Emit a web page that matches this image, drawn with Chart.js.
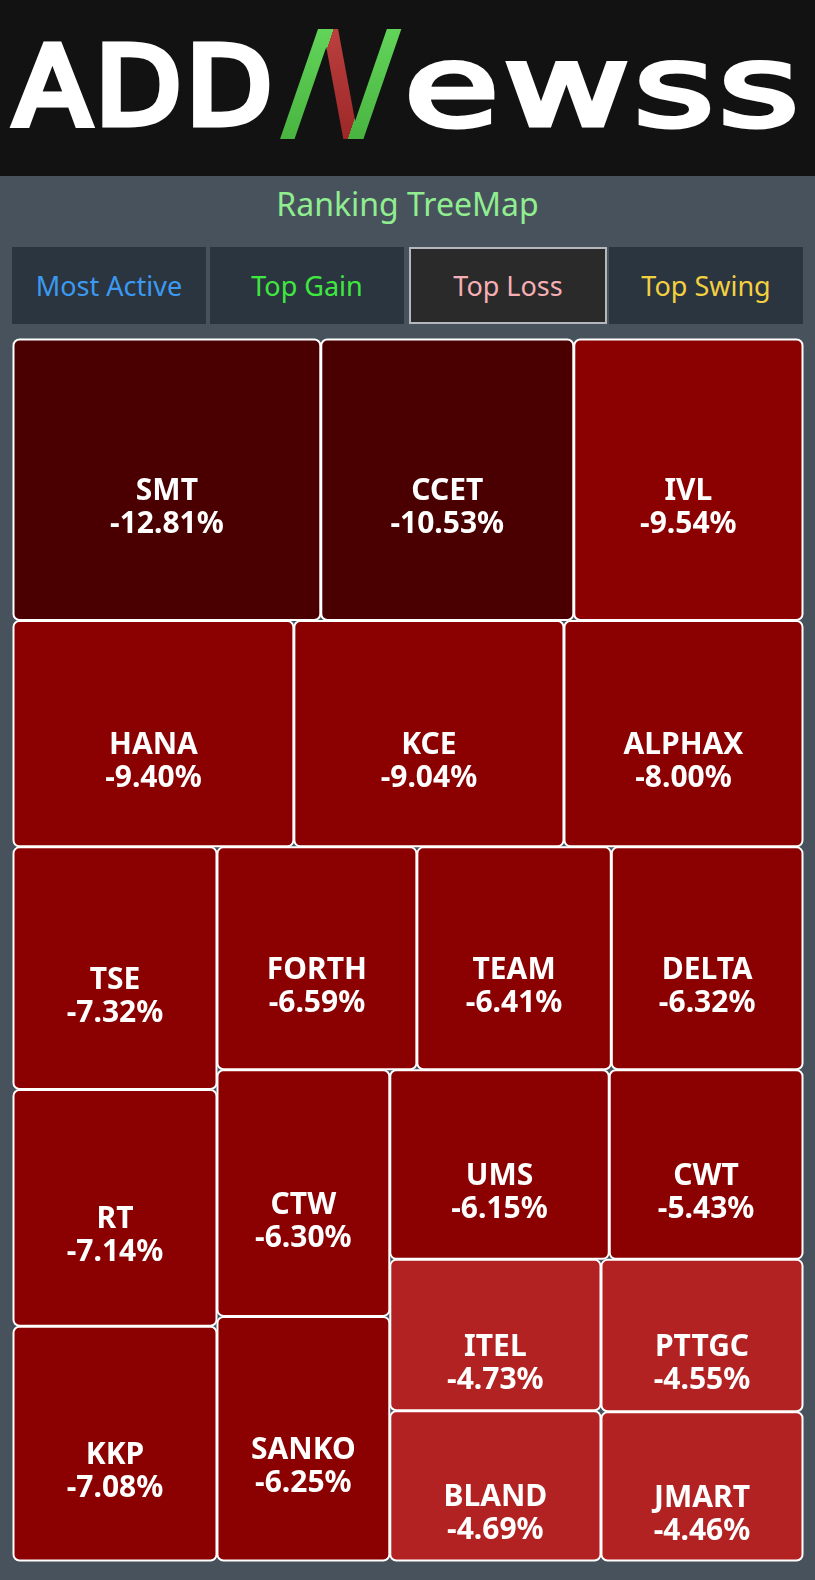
<!DOCTYPE html>
<html>
<head>
<meta charset="utf-8">
<script src="https://cdn.jsdelivr.net/npm/chart.js@4.4.0/dist/chart.umd.min.js"></script>
<style>
  html, body { margin:0; padding:0; }
  body { width:815px; height:1580px; background:#48525d; position:relative; overflow:hidden; font-family:"Noto Sans", sans-serif; }
  #header { position:absolute; left:0; top:0; width:815px; height:176px; background:#121212; overflow:hidden; }
  #logo span { position:absolute; white-space:nowrap; font-family:"DejaVu Sans", sans-serif; font-weight:normal; line-height:1; transform-origin:0 0; }
  #logo .a { left:14px; top:33px; font-size:108px; color:#fff; -webkit-text-stroke:7px #fff; letter-spacing:4px; transform:scaleX(1.04); }
  #logo .e { left:404px; top:30px; font-size:112px; color:#fff; -webkit-text-stroke:5px #fff; letter-spacing:3px; transform:scaleX(1.38); }
  #logo .n { left:283px; top:12px; font-size:151px; transform-origin:50% 50%; transform:skewX(-19deg);
     background:linear-gradient(180deg,rgba(255,255,255,0.12) 0%,rgba(0,0,0,0.18) 100%),
                linear-gradient(90deg,#52d448 0%,#52d448 27%,#b82a2a 27%,#b82a2a 73%,#52d448 73%,#52d448 100%);
     -webkit-background-clip:text; background-clip:text; color:transparent; }
  #title { position:absolute; left:0; top:182px; width:815px; text-align:center; font-size:32px; color:#90ee90; line-height:44px; }
  .tab { position:absolute; top:247px; height:77px; width:194px; background:#2b3540; font-size:27px; text-align:center; line-height:77px; box-sizing:border-box; }
  .tab.sel { background:#2a2a2a; border:2px solid #b4b8bc; line-height:73px; }
  #wrap { position:absolute; left:8px; top:334px; width:800px; height:1232px; }
</style>
</head>
<body>
<div id="header"><div id="logo"><span class="a">ADD</span><span class="n">N</span><span class="e">ewss</span></div></div>
<div id="title">Ranking TreeMap</div>
<div class="tab" style="left:12px;color:#3b9af0">Most Active</div>
<div class="tab" style="left:210px;color:#3fe83f">Top Gain</div>
<div class="tab sel" style="left:409px;width:198px;color:#f7aeb4">Top Loss</div>
<div class="tab" style="left:609px;color:#f3d040">Top Swing</div>
<div id="wrap"><canvas id="c"></canvas></div>
<script>
// ---- data ----
const symbols = ["SMT","CCET","IVL","HANA","KCE","ALPHAX","TSE","RT","KKP","FORTH","TEAM","DELTA","CTW","SANKO","UMS","CWT","ITEL","BLAND","PTTGC","JMART"];
const changes = [-12.81,-10.53,-9.54,-9.40,-9.04,-8.00,-7.32,-7.14,-7.08,-6.59,-6.41,-6.32,-6.30,-6.25,-6.15,-5.43,-4.73,-4.69,-4.55,-4.46];

function colorFor(v) {
  if (v <= -10) return "#4a0000";
  if (v <= -5) return "#8b0000";
  return "#b22222";
}

function squarify(vals, x0, y0, w0, h0) {
  const total = vals.reduce((a,b)=>a+b,0);
  const k = w0*h0/total;
  const areas = vals.map(v=>v*k);
  const rects = [];
  let rx=x0, ry=y0, rw=w0, rh=h0;
  let row = [];
  const sum = a => a.reduce((p,q)=>p+q,0);
  function worst(r, side) {
    const s = sum(r), mx = Math.max(...r), mn = Math.min(...r);
    return Math.max(side*side*mx/(s*s), (s*s)/(side*side*mn));
  }
  function layout(r) {
    const s = sum(r);
    if (rw >= rh) {
      const cw = s/rh; let cy = ry;
      r.forEach(a => { const ch = a/cw; rects.push({x:rx,y:cy,w:cw,h:ch}); cy += ch; });
      rx += cw; rw -= cw;
    } else {
      const ch = s/rw; let cx = rx;
      r.forEach(a => { const cw = a/ch; rects.push({x:cx,y:ry,w:cw,h:ch}); cx += cw; });
      ry += ch; rh -= ch;
    }
  }
  let i = 0;
  while (i < areas.length) {
    const side = Math.min(rw, rh);
    const a = areas[i];
    if (row.length === 0 || worst(row.concat([a]), side) <= worst(row, side)) { row.push(a); i++; }
    else { layout(row); row = []; }
  }
  if (row.length) layout(row);
  return rects;
}

const treemapPlugin = {
  id: 'treemapCells',
  afterDatasetsDraw(chart) {
    const xs = chart.scales.x, ys = chart.scales.y;
    const left = xs.getPixelForValue(0), right = xs.getPixelForValue(1);
    const top = ys.getPixelForValue(1), bottom = ys.getPixelForValue(0);
    const rects = squarify(changes.map(Math.abs), left, top, right-left, bottom-top);
    const ctx = chart.ctx;
    ctx.save();
    rects.forEach((r, i) => {
      const sp = 0.5;
      const x = r.x+sp, y = r.y+sp, w = r.w-2*sp, h = r.h-2*sp;
      ctx.beginPath();
      ctx.roundRect(x, y, w, h, 6);
      ctx.fillStyle = colorFor(changes[i]);
      ctx.fill();
      ctx.lineWidth = 2;
      ctx.strokeStyle = "#ffffff";
      ctx.stroke();
      const cx = r.x + r.w/2, cy = r.y + r.h/2;
      ctx.fillStyle = "#ffffff";
      ctx.textAlign = "center";
      ctx.textBaseline = "middle";
      ctx.font = "bold 30px 'Noto Sans'";
      ctx.fillText(symbols[i], cx, cy + 12);
      ctx.fillText(changes[i].toFixed(2) + "%", cx, cy + 45);
    });
    ctx.restore();
  }
};

new Chart(document.getElementById('c'), {
  type: 'scatter',
  data: { datasets: [{ data: [] }] },
  options: {
    responsive: true,
    maintainAspectRatio: false,
    animation: false,
    layout: { padding: 5 },
    plugins: { legend: { display:false }, tooltip: { enabled:false } },
    scales: {
      x: { type:'linear', min:0, max:1, display:false },
      y: { type:'linear', min:0, max:1, display:false }
    }
  },
  plugins: [treemapPlugin]
});
</script>
</body>
</html>
